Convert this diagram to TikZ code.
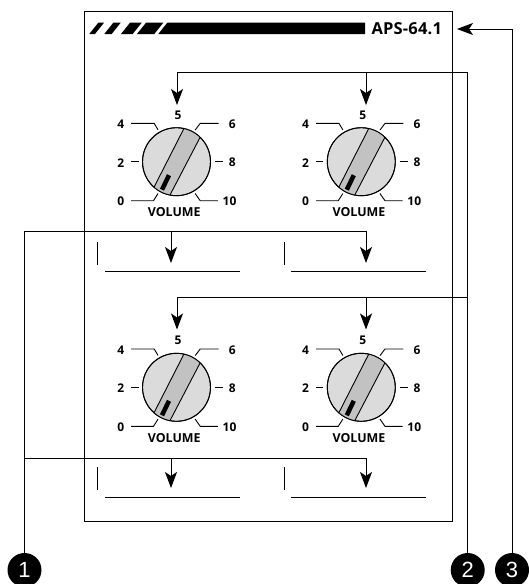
\documentclass[tikz,border=0pt]{standalone}
\usepackage{fontspec}
\setmainfont{Open Sans}
\newfontfamily\badgefont{Liberation Sans}
\usetikzlibrary{arrows.meta}

\tikzset{
    wire/.style={line width=1pt},
    wirearrow/.style={wire,-{Stealth[length=16pt,width=12pt,inset=4pt]}},
    leader/.style={line width=0.9pt},
    dial/.style={circle,draw,line width=0.9pt,fill=black!14,minimum size=68pt,inner sep=0pt,outer sep=0pt},
    scalelabel/.style={font=\bfseries\fontsize{12}{12}\selectfont,inner sep=0pt},
    badge/.style={circle,fill=black,text=white,minimum size=34pt,inner sep=0pt,outer sep=0pt,font=\badgefont\fontsize{22}{22}\selectfont},
}

\newcommand{\volumeknob}[3]{
    \begin{scope}[shift={(#2,#3)}]
        \node[dial] (#1) at (0,0) {};
        \begin{scope}
            \clip (0,0) circle (34);
            \filldraw[fill=black!24,line width=0.9pt] (16,-50) -- (32.7,-41.8) -- (-16,51.5) -- (-31.3,42.8) -- cycle;
        \end{scope}
        \draw[line width=0.9pt] (0,0) circle (34);
        \draw[line width=4.5pt] (-7.5,13.5) -- (-14.5,28);
        \node[scalelabel] (#1-0) at (-55.7,40) {0};
        \node[scalelabel] (#1-2) at (-55.7,1) {2};
        \node[scalelabel] (#1-4) at (-55.7,-37.5) {4};
        \node[scalelabel] (#1-5) at (1.5,-46.7) {5};
        \node[scalelabel] (#1-6) at (55.7,-37.5) {6};
        \node[scalelabel] (#1-8) at (55.7,1) {8};
        \node[scalelabel] (#1-10) at (53,40) {10};
        \node[scalelabel,font=\bfseries\fontsize{12.4}{12.4}\selectfont] (#1-v) at (-2.3,50.7) {VOLUME};
        \draw[leader,shorten >=2.8pt] ([shift={(10.4,-0.8)}]#1-4.center) -- ++(23,0) -- (#1.120);
        \draw[leader,shorten >=2.8pt] ([shift={(-13.7,-0.8)}]#1-6.center) -- ++(-18.3,0) -- (#1.60);
        \draw[leader,shorten >=2.8pt] ([shift={(10.4,-1)}]#1-0.center) -- ++(22.3,0) -- (#1.240);
        \draw[leader,shorten >=2.8pt] ([shift={(-11.7,-1)}]#1-10.center) -- ++(-17.6,0) -- (#1.300);
        \draw[leader] ([shift={(10.4,-1)}]#1-2.center) -- ++(7.3,0);
        \draw[leader] ([shift={(-9.4,-1)}]#1-8.center) -- ++(-7.6,0);
    \end{scope}
}

\begin{document}
\begin{tikzpicture}[x=1pt,y=-1pt]
    \useasboundingbox (0,0) rectangle (528,584);

    % panel
    \node[draw,line width=1pt,minimum width=368.5pt,minimum height=510pt,inner sep=0pt] (panel) at (268.25,266) {};

    % title bar
    \fill (89.3,34) -- (98.3,22.7) -- (104,22.7) -- (95,34) -- cycle;
    \fill (104.3,34) -- (113.3,22.7) -- (120.7,22.7) -- (111.7,34) -- cycle;
    \fill (121,34) -- (130,22.7) -- (141.7,22.7) -- (132.7,34) -- cycle;
    \fill (137,34) -- (146,22.7) -- (163.3,22.7) -- (154.3,34) -- cycle;
    \fill (158.3,34) -- (167.3,22.7) -- (365,22.7) -- (365,34) -- cycle;
    \node[font=\bfseries\fontsize{16.5}{16.5}\selectfont\addfontfeature{LetterSpace=1},inner sep=0pt] (model) at (406.8,29) {APS-64.1};

    % knobs
    \volumeknob{knobA}{176.5}{161.7}
    \volumeknob{knobB}{361.3}{161.7}
    \volumeknob{knobC}{176.5}{387.3}
    \volumeknob{knobD}{361.3}{387.3}

    % write-in fields
    \draw[leader] (97.5,242) -- (97.5,264.5);
    \draw[leader] (105,271.5) -- (240,271.5);
    \draw[leader] (284.5,242) -- (284.5,264.5);
    \draw[leader] (291,271.5) -- (426,271.5);
    \draw[leader] (97.5,467) -- (97.5,489.5);
    \draw[leader] (105,497.5) -- (240,497.5);
    \draw[leader] (284.5,467) -- (284.5,489.5);
    \draw[leader] (291,497.5) -- (426,497.5);

    % callouts
    \node[badge] (one) at (24.5,570) {1};
    \node[badge] (two) at (467.7,570) {2};
    \node[badge] (three) at (512,570) {3};

    \coordinate (fieldA) at (171,231);
    \coordinate (fieldB) at (366,231);
    \coordinate (fieldC) at (171,458);
    \coordinate (fieldD) at (366,458);
    \coordinate (tipA) at (171,263);
    \coordinate (tipB) at (366,263);
    \coordinate (tipC) at (171,488);
    \coordinate (tipD) at (366,488);
    \coordinate (busA) at (24.5,231);
    \coordinate (busC) at (24.5,458);
    \draw[wire] (one) -- (busA);
    \draw[wirearrow] (busA) -- (fieldB) -- (tipB);
    \draw[wirearrow] (fieldA) -- (tipA);
    \draw[wirearrow] (busC) -- (fieldD) -- (tipD);
    \draw[wirearrow] (fieldC) -- (tipC);

    \coordinate (levelA) at (177,72.7);
    \coordinate (levelB) at (366,72.7);
    \coordinate (levelC) at (177,297);
    \coordinate (levelD) at (366,297);
    \coordinate (riserA) at (467.7,72.7);
    \coordinate (riserC) at (467.7,297);
    \coordinate (knobtipA) at (177,105);
    \coordinate (knobtipB) at (366,105);
    \coordinate (knobtipC) at (177,329.5);
    \coordinate (knobtipD) at (366,329.5);
    \draw[wire] (two) -- (riserA);
    \draw[wirearrow] (riserA) -- (levelA) -- (knobtipA);
    \draw[wirearrow] (levelB) -- (knobtipB);
    \draw[wirearrow] (riserC) -- (levelC) -- (knobtipC);
    \draw[wirearrow] (levelD) -- (knobtipD);

    \coordinate (modeltip) at (457,29);
    \draw[wirearrow] (three) |- (modeltip);
\end{tikzpicture}
\end{document}
